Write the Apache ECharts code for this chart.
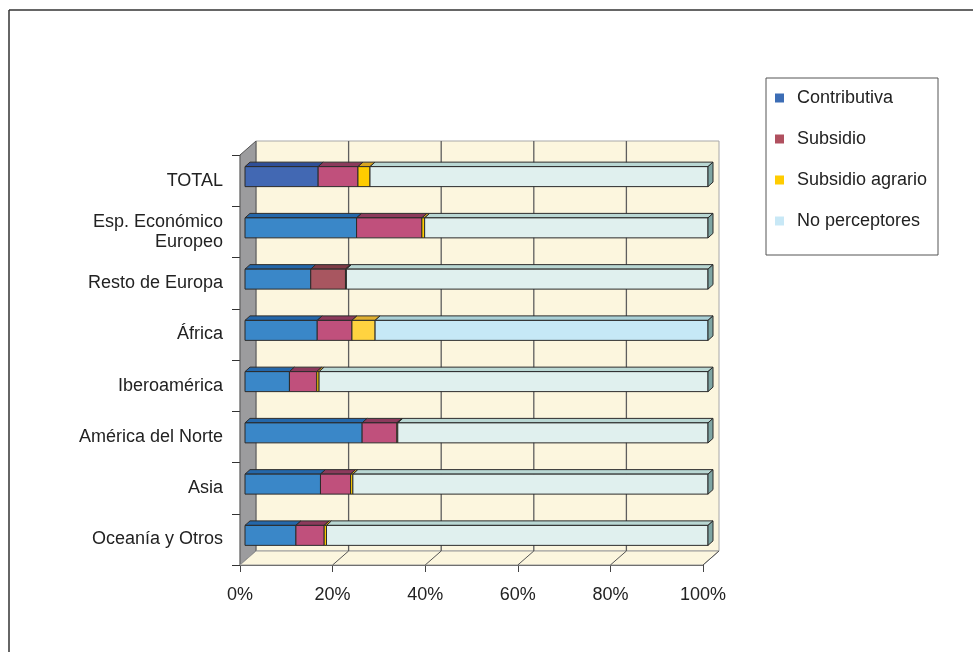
<!DOCTYPE html>
<html>
<head>
<meta charset="utf-8">
<script src="https://cdn.jsdelivr.net/npm/echarts@6/dist/echarts.min.js"></script>
<style>
  html, body { margin: 0; padding: 0; background: #fff; }
  #chart { width: 973px; height: 652px; }
</style>
</head>
<body>
<div id="chart"></div>
<script>
// categorías (de arriba a abajo)
var categories = ['TOTAL', 'Esp. Económico\nEuropeo', 'Resto de Europa', 'África', 'Iberoamérica', 'América del Norte', 'Asia', 'Oceanía y Otros']
// porcentajes
var contributiva = [15.8, 24.1, 14.2, 15.6, 9.6, 25.3, 16.3, 11.0]
var subsidio = [8.6, 14.1, 7.5, 7.5, 5.9, 7.5, 6.5, 6.1]
var subsidioAgrario = [2.6, 0.6, 0.2, 5.0, 0.5, 0.2, 0.5, 0.5]
var noPerceptores = [73.0, 61.2, 78.1, 71.9, 84.0, 67.0, 76.7, 82.4]
var xTicks = [0, 20, 40, 60, 80, 100]

var FONT = '"Liberation Sans", Arial, Helvetica, sans-serif'
// desplazamiento 3D
var DEPTH_X = 16, DEPTH_Y = -14
var BAR_OFF_X = 5, BAR_OFF_Y = -4
var BAR_DX = 5, BAR_DY = -4.5

var chart = echarts.init(document.getElementById('chart'))

// colores de cada tramo (algunas barras llevan otro tono)
var seriesDefs = [
  { name: 'Contributiva', values: contributiva, legend: '#3c6db5', front: '#3a87c8', top: '#2467aa', side: '#2467aa', special: { 0: { front: '#4268b3', top: '#2f4f98' } } },
  { name: 'Subsidio', values: subsidio, legend: '#b0505f', front: '#c0507c', top: '#8c3a5c', side: '#8c3a5c', special: { 2: { front: '#a85660', top: '#7e3c46' } } },
  { name: 'Subsidio agrario', values: subsidioAgrario, legend: '#ffcc00', front: '#ffcc00', top: '#d9a520', side: '#d9a520', special: { 3: { front: '#ffd340', top: '#e0b030' } } },
  { name: 'No perceptores', values: noPerceptores, legend: '#c8e8f6', front: '#e0f0ee', top: '#b9d7d3', side: '#7fa6a4', special: { 3: { front: '#c6e8f6', top: '#a9d0d6' } } }
]

var cum = categories.map(function () { return 0 })
var barSeries = seriesDefs.map(function (def, si) {
  var data = def.values.map(function (v, i) {
    var start = cum[i]
    cum[i] += v
    return [i, start, cum[i]]
  })
  var isLast = si === seriesDefs.length - 1
  return {
    name: def.name,
    type: 'custom',
    z: 3,
    itemStyle: { color: def.legend },
    encode: { x: [1, 2], y: 0 },
    data: data,
    renderItem: function (params, api) {
      var cat = api.value(0)
      var s = api.value(1)
      var e = api.value(2)
      if (e - s <= 0) return
      var p0 = api.coord([s, cat])
      var p1 = api.coord([e, cat])
      var h = api.size([0, 1])[1] * 0.39
      var x = p0[0] + BAR_OFF_X
      var y = p0[1] - h / 2 + BAR_OFF_Y
      var w = p1[0] - p0[0]
      var col = def.special[cat] || def
      var stroke = { stroke: '#2b2b2b', lineWidth: 1 }
      var children = [
        {
          type: 'polygon',
          shape: { points: [[x, y], [x + BAR_DX, y + BAR_DY], [x + w + BAR_DX, y + BAR_DY], [x + w, y]] },
          style: Object.assign({ fill: col.top }, stroke)
        },
        {
          type: 'rect',
          shape: { x: x, y: y, width: w, height: h },
          style: Object.assign({ fill: col.front }, stroke)
        }
      ]
      if (isLast) {
        children.push({
          type: 'polygon',
          shape: { points: [[x + w, y], [x + w + BAR_DX, y + BAR_DY], [x + w + BAR_DX, y + h + BAR_DY], [x + w, y + h]] },
          style: Object.assign({ fill: def.side }, stroke)
        })
      }
      return { type: 'group', children: children }
    }
  }
})

// paredes y suelo del gráfico 3D
var wallSeries = {
  name: 'walls',
  type: 'custom',
  silent: true,
  z: 1,
  data: [[0, 0, 0]],
  encode: { x: 1, y: 0 },
  renderItem: function (params, api) {
    var cs = params.coordSys
    var x0 = cs.x, x1 = cs.x + cs.width, y0 = cs.y, y1 = cs.y + cs.height
    var bx0 = x0 + DEPTH_X, bx1 = x1 + DEPTH_X, by0 = y0 + DEPTH_Y, by1 = y1 + DEPTH_Y
    var children = [
      { type: 'rect', shape: { x: bx0, y: by0, width: bx1 - bx0, height: by1 - by0 }, style: { fill: '#fcf6de', stroke: '#a8a8a8', lineWidth: 1 } },
      { type: 'polygon', shape: { points: [[x0, y0], [bx0, by0], [bx0, by1], [x0, y1]] }, style: { fill: '#9c9c9e', stroke: '#555', lineWidth: 1 } },
      { type: 'polygon', shape: { points: [[x0, y1], [x1, y1], [bx1, by1], [bx0, by1]] }, style: { fill: '#fcf6de', stroke: '#9a9a9a', lineWidth: 1 } }
    ]
    xTicks.forEach(function (t) {
      var px = api.coord([t, 0])[0]
      if (t > 0 && t < 100) {
        children.push({ type: 'line', shape: { x1: px + DEPTH_X, y1: by0, x2: px + DEPTH_X, y2: by1 }, style: { stroke: '#5e5e5e', lineWidth: 1.3 } })
      }
      if (t > 0) {
        children.push({ type: 'line', shape: { x1: px, y1: y1, x2: px + DEPTH_X, y2: by1 }, style: { stroke: '#555', lineWidth: 1 } })
      }
    })
    return { type: 'group', children: children }
  }
}

var option = {
  backgroundColor: '#fff',
  animation: false,
  textStyle: { fontFamily: FONT },
  grid: { left: 240, right: 270, top: 155, bottom: 87 },
  legend: {
    data: seriesDefs.map(function (d) { return d.name }),
    orient: 'vertical',
    left: 770,
    top: 84,
    icon: 'rect',
    itemWidth: 9,
    itemHeight: 9,
    itemGap: 23,
    selectedMode: false,
    textStyle: { fontSize: 18, color: '#222', fontFamily: FONT, padding: [0, 0, 0, 8] }
  },
  xAxis: {
    type: 'value',
    min: 0,
    max: 100,
    interval: 20,
    axisLine: { show: true, lineStyle: { color: '#444', width: 1 } },
    axisTick: { show: true, length: 7, lineStyle: { color: '#444' } },
    splitLine: { show: false },
    axisLabel: { formatter: '{value}%', fontSize: 18, color: '#222', margin: 21, fontFamily: FONT }
  },
  yAxis: {
    type: 'category',
    inverse: true,
    data: categories,
    axisLine: { show: true, lineStyle: { color: '#333', width: 1.3 } },
    axisTick: { show: true, length: 8, lineStyle: { color: '#333' } },
    splitLine: { show: false },
    axisLabel: { fontSize: 18, color: '#222', margin: 17, lineHeight: 20, align: 'right', fontFamily: FONT }
  },
  graphic: [
    { type: 'line', shape: { x1: 9, y1: 10, x2: 973, y2: 10 }, style: { stroke: '#333', lineWidth: 1.5 } },
    { type: 'line', shape: { x1: 9, y1: 10, x2: 9, y2: 652 }, style: { stroke: '#333', lineWidth: 1.5 } },
    { type: 'rect', z: -1, shape: { x: 766, y: 78, width: 172, height: 177 }, style: { fill: '#fff', stroke: '#555', lineWidth: 1 } }
  ],
  series: [wallSeries].concat(barSeries)
}
chart.setOption(option)
</script>
</body>
</html>
